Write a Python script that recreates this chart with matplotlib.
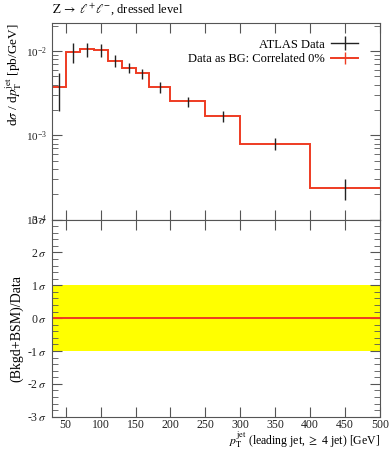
import numpy as np
import matplotlib
matplotlib.use("Agg")
import matplotlib.pyplot as plt
from matplotlib.lines import Line2D
from matplotlib.ticker import FixedLocator, LogLocator, NullFormatter, MultipleLocator

# bin edges and values
bin_edges = [30, 50, 70, 90, 110, 130, 150, 170, 200, 250, 300, 400, 500]
bkg_values = [3.79e-3, 9.8e-3, 1.06e-2, 1.03e-2, 7.7e-3, 6.35e-3, 5.55e-3,
              3.8e-3, 2.54e-3, 1.72e-3, 7.98e-4, 2.35e-4]
data_values = [3.79e-3, 9.8e-3, 1.06e-2, 1.03e-2, 7.7e-3, 6.35e-3, 5.55e-3,
               3.8e-3, 2.54e-3, 1.72e-3, 7.98e-4, 2.35e-4]
data_up = [5.55e-3, 1.25e-2, 1.25e-2, 1.21e-2, 8.97e-3, 7.27e-3, 6.08e-3,
           4.35e-3, 2.88e-3, 1.96e-3, 9.4e-4, 3.0e-4]
data_down = [1.97e-3, 7.16e-3, 8.43e-3, 8.43e-3, 6.42e-3, 5.46e-3, 4.67e-3,
             3.17e-3, 2.16e-3, 1.45e-3, 6.65e-4, 1.71e-4]
sigma_ticks = [-3, -2, -1, 0, 1, 2, 3]

red = "#ee3b22"
frame = "#555555"

plt.rcParams["font.family"] = ["Liberation Serif", "DejaVu Serif"]
plt.rcParams["mathtext.fontset"] = "stix"
plt.rcParams["axes.edgecolor"] = frame
plt.rcParams["xtick.color"] = frame
plt.rcParams["ytick.color"] = frame
plt.rcParams["xtick.labelcolor"] = "#222222"
plt.rcParams["ytick.labelcolor"] = "#222222"

fig = plt.figure(figsize=(3.92, 4.5), dpi=100)
ax = fig.add_axes([0.132, 0.512, 0.837, 0.437])
rax = fig.add_axes([0.132, 0.074, 0.837, 0.438])

edges = np.array(bin_edges)
centers = 0.5 * (edges[1:] + edges[:-1])
vals = np.array(data_values)

ax.stairs(bkg_values, edges, color=red, linewidth=1.4, baseline=None)
ax.errorbar(centers, vals,
            yerr=[vals - np.array(data_down), np.array(data_up) - vals],
            fmt="none", ecolor="#222222", elinewidth=1.0, capsize=0)
ax.set_yscale("log")
ax.set_xlim(30, 500)
ax.set_ylim(1.0e-4, 2.16e-2)
ax.set_ylabel(r"d$\sigma$ / d$p_\mathrm{T}^\mathrm{jet}$ [pb/GeV]",
              fontsize=9.5, loc="top")
ax.yaxis.set_label_coords(-0.085, 1.0)
ax.xaxis.set_major_locator(MultipleLocator(50))
ax.set_xticklabels([])
ax.yaxis.set_major_locator(LogLocator(base=10, numticks=10))
ax.yaxis.set_minor_locator(LogLocator(base=10, subs=np.arange(2, 10), numticks=10))
ax.yaxis.set_minor_formatter(NullFormatter())
ax.tick_params(which="both", direction="in", top=True, right=True, labelsize=8)
ax.tick_params(which="major", length=7)
ax.tick_params(which="minor", length=4)
ax.text(0.0, 1.03, r"$\mathrm{Z}\;\to\;\ell^{+}\ell^{-}$, dressed level",
        transform=ax.transAxes, fontsize=9, ha="left", va="bottom")

handles = [Line2D([], [], color="#222222", marker="|", markersize=10, linewidth=1.0,
                  markeredgewidth=1.0),
           Line2D([], [], color=red, marker="|", markersize=8, linewidth=1.4,
                  markeredgewidth=1.0)]
ax.legend(handles, ["ATLAS Data", "Data as BG: Correlated 0%"], loc="upper right",
          frameon=False, markerfirst=False, fontsize=9, handlelength=2.2,
          borderaxespad=0.4, labelspacing=0.2, handletextpad=0.5,
          bbox_to_anchor=(0.965, 0.97))

rax.axhspan(-1, 1, color="#ffff00", linewidth=0)
rax.axhline(0, color=red, linewidth=1.4)
rax.set_xlim(30, 500)
rax.set_ylim(-3, 3)
rax.yaxis.set_major_locator(FixedLocator(sigma_ticks))
rax.set_yticklabels([r"%d$\,\sigma$" % v for v in sigma_ticks])
rax.yaxis.set_minor_locator(MultipleLocator(0.2))
rax.xaxis.set_major_locator(MultipleLocator(50))
rax.tick_params(which="both", direction="in", top=True, right=True, labelsize=8.5)
rax.tick_params(which="major", length=7)
rax.tick_params(which="minor", length=4)
rax.tick_params(axis="x", pad=2)
rax.set_ylabel("(Bkgd+BSM)/Data", fontsize=10)
rax.yaxis.set_label_coords(-0.085, 0.45)
fig.text(0.969, 0.001,
         r"$p_\mathrm{T}^\mathrm{jet}$ (leading jet, $\geq$ 4 jet) [GeV]",
         fontsize=8.5, ha="right", va="bottom")

fig.savefig("out.png", dpi=100)
